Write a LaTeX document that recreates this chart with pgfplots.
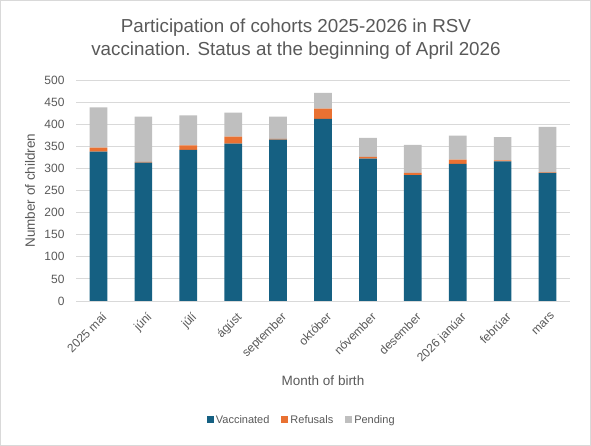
\documentclass[border=0pt]{standalone}
\usepackage{fontspec}
\setmainfont{Liberation Sans}
\usepackage{pgfplots}
\pgfplotsset{compat=1.18}
\usepackage{pgfplotstable}

\definecolor{vacc}{HTML}{156082}
\definecolor{refu}{HTML}{E97132}
\definecolor{pend}{HTML}{BFBFBF}
\definecolor{txt}{HTML}{595959}
\definecolor{gridc}{HTML}{D9D9D9}

% x: 0 = 2025 mai ... 10 = mars
\pgfplotstableread{
x vacc refu pend
0 338 9 91
1 313 2 102
2 342 10 68
3 356 16 54
4 365 2 50
5 412 23 36
6 322 4 43
7 285 5 63
8 310 10 54
9 316 2 53
10 290 1 103
}\cohorts

\begin{document}
\begin{tikzpicture}
\useasboundingbox (-76pt,-145pt) rectangle (515pt,301pt);
\draw[gridc] (-75.5pt,-144.5pt) rectangle (514.5pt,300.5pt);
\node[text=txt, font=\fontsize{18.8}{23}\selectfont, align=center] at (220pt,262pt)
  {Participation of cohorts 2025-2026 in RSV\\vaccination. Status at the beginning of April 2026};
\begin{axis}[
    scale only axis,
    width=494pt, height=221pt,
    ybar stacked,
    bar width=17.7pt,
    xmin=-0.5, xmax=10.5,
    ymin=0, ymax=500,
    ytick={0,50,...,500},
    xtick=data,
    xticklabels={2025 maí, júní, júlí, ágúst, september, október, nóvember, desember, 2026 janúar, febrúar, mars},
    x tick label style={rotate=45, anchor=north east, font=\fontsize{12}{14}\selectfont, text=txt, yshift=-6pt, xshift=-2pt},
    y tick label style={font=\fontsize{12}{14}\selectfont, text=txt, xshift=-8pt},
    /pgf/number format/assume math mode=true,
    major tick length=0pt,
    axis x line*=bottom,
    axis y line*=left,
    y axis line style={draw=none},
    x axis line style={gridc, thick},
    ymajorgrids,
    grid style={gridc, line width=0.8pt},
    xlabel={Month of birth},
    ylabel={Number of children},
    label style={font=\fontsize{13.5}{16}\selectfont, text=txt},
    xlabel style={at={(axis description cs:0.5,-0.362)}, anchor=center},
    ylabel style={at={(axis description cs:-0.093,0.5)}, anchor=center},
    legend style={at={(axis description cs:0.457,-0.538)}, anchor=center,
        draw=none, legend columns=3, font=\fontsize{11}{13}\selectfont, text=txt,
        /tikz/every even column/.append style={column sep=10pt}},
    legend image code/.code={\fill[#1] (0pt,-3.5pt) rectangle (7pt,3.5pt);},
]
\addplot[fill=vacc, draw=none] table[x=x, y=vacc] {\cohorts};
\addplot[fill=refu, draw=none] table[x=x, y=refu] {\cohorts};
\addplot[fill=pend, draw=none] table[x=x, y=pend] {\cohorts};
\legend{Vaccinated, Refusals, Pending}
\end{axis}
\end{tikzpicture}
\end{document}
